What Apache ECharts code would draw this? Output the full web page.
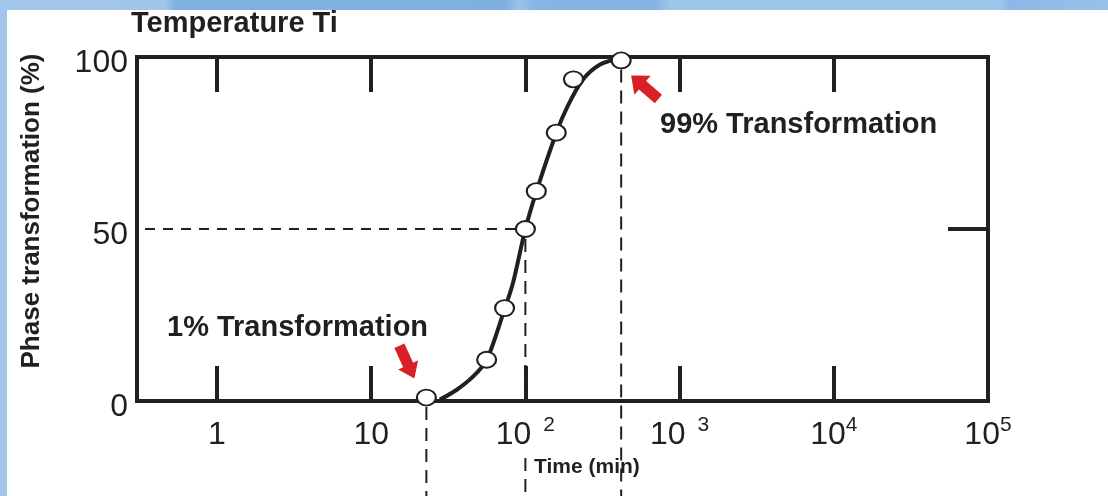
<!DOCTYPE html>
<html>
<head>
<meta charset="utf-8">
<script src="https://cdn.jsdelivr.net/npm/echarts@6/dist/echarts.min.js"></script>
<style>
  html, body { margin: 0; padding: 0; }
  #bg {
    position: absolute; left: 0; top: 0; width: 1108px; height: 496px;
    background: linear-gradient(90deg, #a3c7ec 0px, #a0c5eb 165px, #80b1e3 175px, #7fb0e2 505px,
      #9cc3ea 520px, #86b5e5 535px, #84b4e4 655px, #a0c5ea 670px, #9fc4ea 1000px,
      #8cb8e6 1010px, #99c0e9 1108px);
  }
  #panel { position: absolute; left: 7px; top: 10px; width: 1101px; height: 486px; background: #fff; }
  #chart { position: absolute; left: 0; top: 0; width: 1108px; height: 496px; }
</style>
</head>
<body>
<div id="bg"></div>
<div id="panel"></div>
<div id="chart"></div>
<script>
// Measured transformation samples (time in minutes, transformed fraction in %)
const sampleTime    = [22.8, 56.1, 73.3, 100, 117.7, 158.6, 205, 418];
const samplePercent = [1, 12, 27, 50, 61, 78, 93.5, 99];

// Sigmoidal transformation curve traced through the samples
const curveTime    = [27.9, 35.7, 45.5, 56.1, 73.3, 83, 100, 117.7, 158.6, 187, 235, 305, 418];
const curvePercent = [0.4, 3.2, 7, 11.9, 26.7, 34.2, 50, 60.8, 77.9, 85.5, 93.3, 97.8, 99.7];

// Axis values
const timeLabels = [1, 10, 100, 1000, 10000, 100000];
const timeTicks  = [1, 10, 100, 1000, 10000];
const timeMin = 0.303;
const timeMax = 100000;
const percentRightTicks = [50];

// Reference times marked on the plot
const startTime = 22.8, startPercent = 1;
const halfTime = 100, halfPercent = 50;
const endTime = 418, endPercent = 99;

const INK = '#231f20';
const RED = '#d92027';

const chart = echarts.init(document.getElementById('chart'), null, { renderer: 'canvas' });

function timeLabel(v) {
  if (v < 100) return '{base|' + v + '}';
  const e = Math.round(Math.log10(v));
  return '{base|10}' + (e <= 3 ? '{supA|' + e + '}' : '{supB|' + e + '}');
}

const axisLineStyle = { color: INK, width: 4, cap: 'square' };

chart.setOption({
  backgroundColor: 'transparent',
  animation: false,
  grid: { left: 137, right: 120, top: 57, bottom: 95, containLabel: false, outerBoundsMode: 'none' },
  xAxis: [
    {
      type: 'log', position: 'bottom', min: timeMin, max: timeMax,
      axisLine: { show: true, onZero: false, lineStyle: axisLineStyle },
      axisTick: { show: true, inside: true, length: 35, customValues: timeTicks,
                  lineStyle: { color: INK, width: 4 } },
      minorTick: { show: false },
      splitLine: { show: false },
      axisLabel: {
        show: true, customValues: timeLabels, margin: 14,
        formatter: timeLabel,
        rich: {
          base: { fontFamily: 'Liberation Sans', fontSize: 32, color: INK, lineHeight: 34, padding: [6, 0, 0, 0] },
          supA: { fontFamily: 'Liberation Sans', fontSize: 21, color: INK, lineHeight: 21, verticalAlign: 'top', padding: [0, 0, 0, 12] },
          supB: { fontFamily: 'Liberation Sans', fontSize: 21, color: INK, lineHeight: 21, verticalAlign: 'top' }
        }
      }
    },
    {
      type: 'log', position: 'top', min: timeMin, max: timeMax,
      axisLine: { show: true, onZero: false, lineStyle: axisLineStyle },
      axisTick: { show: true, inside: true, length: 35, customValues: timeTicks,
                  lineStyle: { color: INK, width: 4 } },
      minorTick: { show: false },
      splitLine: { show: false },
      axisLabel: { show: false }
    }
  ],
  yAxis: [
    {
      type: 'value', position: 'left', min: 0, max: 100, interval: 50,
      axisLine: { show: true, onZero: false, lineStyle: axisLineStyle },
      axisTick: { show: false },
      splitLine: { show: false },
      axisLabel: {
        show: true, margin: 9,
        formatter: v => '{v|' + v + '}',
        rich: { v: { fontFamily: 'Liberation Sans', fontSize: 32, color: INK, lineHeight: 34, padding: [12, 0, 0, 0] } }
      }
    },
    {
      type: 'value', position: 'right', min: 0, max: 100, interval: 50,
      axisLine: { show: true, onZero: false, lineStyle: axisLineStyle },
      axisTick: { show: true, inside: true, length: 40, customValues: percentRightTicks,
                  lineStyle: { color: INK, width: 4 } },
      splitLine: { show: false },
      axisLabel: { show: false }
    }
  ],
  series: [
    {
      type: 'line', xAxisIndex: 0, yAxisIndex: 0,
      data: curveTime.map((t, i) => [t, curvePercent[i]]),
      smooth: 0.3, symbol: 'none',
      lineStyle: { color: INK, width: 4 },
      z: 3
    },
    {
      type: 'scatter', xAxisIndex: 0, yAxisIndex: 0,
      data: sampleTime.map((t, i) => [t, samplePercent[i]]),
      symbol: 'circle', symbolSize: [19, 16],
      itemStyle: { color: '#ffffff', borderColor: INK, borderWidth: 2, opacity: 1 },
      z: 5
    }
  ]
});

// Guide lines, arrows and annotation text placed from axis coordinates
function px(t, p) { return chart.convertToPixel({ seriesIndex: 1 }, [t, p]); }

const H = chart.getHeight();
const axisY = px(halfTime, 0)[1];
const half = px(halfTime, halfPercent);
const start = px(startTime, startPercent);
const end = px(endTime, endPercent);
const leftX = px(timeMin, 0)[0];

function dashed(x1, y1, x2, y2, dash) {
  return {
    type: 'line', z: 2, silent: true,
    shape: { x1: x1, y1: y1, x2: x2, y2: y2 },
    style: { stroke: INK, lineWidth: 2, lineDash: dash }
  };
}

function arrow(tipX, tipY, dx, dy, len, shaftW, headW, headL) {
  const n = Math.hypot(dx, dy);
  const ux = dx / n, uy = dy / n;     // tail -> tip
  const vx = -uy, vy = ux;           // perpendicular
  const bx = tipX - ux * headL, by = tipY - uy * headL;   // head base centre
  const tx = tipX - ux * len, ty = tipY - uy * len;       // tail centre
  const pts = [
    [tx + vx * shaftW / 2, ty + vy * shaftW / 2],
    [bx + vx * shaftW / 2, by + vy * shaftW / 2],
    [bx + vx * headW / 2, by + vy * headW / 2],
    [tipX, tipY],
    [bx - vx * headW / 2, by - vy * headW / 2],
    [bx - vx * shaftW / 2, by - vy * shaftW / 2],
    [tx - vx * shaftW / 2, ty - vy * shaftW / 2]
  ];
  return { type: 'polygon', z: 6, silent: true, shape: { points: pts }, style: { fill: RED } };
}

function label(text, x, y, size, extra) {
  return Object.assign({
    type: 'text', z: 7, silent: true, x: x, y: y,
    style: {
      text: text, fill: INK, fontFamily: 'Liberation Sans', fontWeight: 'bold',
      fontSize: size, align: 'left', verticalAlign: 'middle'
    }
  }, extra || {});
}

chart.setOption({
  graphic: [
    dashed(leftX + 8, half[1], half[0] - 10, half[1], [10, 8]),
    dashed(half[0], half[1] + 10, half[0], axisY, [13, 8]),
    dashed(half[0], axisY + 57, half[0], H, [13, 8]),
    dashed(end[0], end[1] + 9, end[0], H, [13, 8]),
    dashed(start[0], axisY + 6, start[0], H, [13, 8]),
    arrow(start[0] - 12, start[1] - 19, 14.3, 31.3, 36, 11, 22, 15),
    arrow(end[0] + 10, end[1] + 15, -26.6, -23, 36, 11, 25, 15),
    label('Temperature Ti', 131, 24, 29),
    label('1% Transformation', 167, 328, 29),
    label('99% Transformation', 660, 125, 29),
    label('Time (min)', 534, 467, 21),
    {
      type: 'text', z: 7, silent: true, x: 32, y: 211, rotation: Math.PI / 2,
      style: {
        text: 'Phase transformation (%)', fill: INK, fontFamily: 'Liberation Sans',
        fontWeight: 'bold', fontSize: 26, align: 'center', verticalAlign: 'middle'
      }
    }
  ]
});
</script>
</body>
</html>
